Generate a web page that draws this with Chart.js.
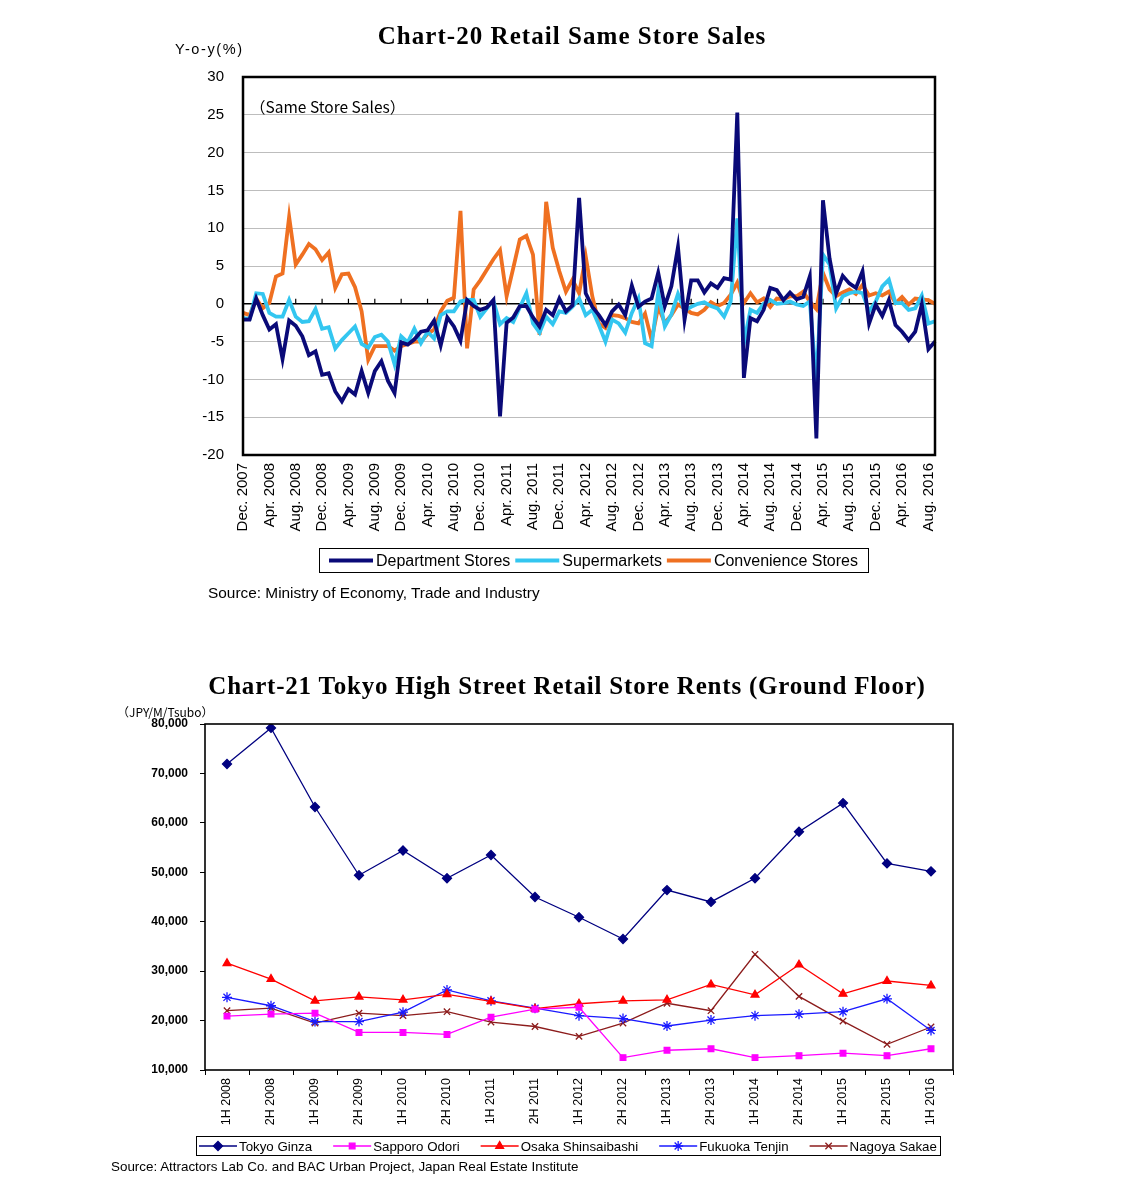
<!DOCTYPE html>
<html>
<head>
<meta charset="utf-8">
<title>Retail Same Store Sales / High Street Rents</title>
<script src="https://cdn.jsdelivr.net/npm/chart.js@4.4.1/dist/chart.umd.min.js"></script>
<style>
    body { margin: 0; background: #fff; width: 1139px; height: 1184px; position: relative; overflow: hidden;
           font-family: 'Liberation Sans', Arial, sans-serif; color: #000; }
    .abs { position: absolute; white-space: nowrap; }
    .title { font-family: 'Liberation Serif', serif; font-weight: bold; font-size: 25px; text-align: center; left: 0; }
    canvas { position: absolute; left: 0; }
</style>
</head>
<body>
<canvas id="salesChart" width="1139" height="600" style="top:0"></canvas>
<canvas id="rentChart" width="1139" height="584" style="top:600px"></canvas>

<div class="abs title" style="top:22px; width:1144px; letter-spacing:1.05px;">Chart-20 Retail Same Store Sales</div>
<div class="abs" style="left:175px; top:41px; font-size:14.5px; letter-spacing:1.6px;">Y-o-y(%)</div>
<div class="abs" style="left:250px; top:95px; font-size:15.5px; font-family:'Noto Sans CJK JP', sans-serif;">（Same Store Sales）</div>
<div class="abs" style="left:208px; top:584px; font-size:15.4px;">Source: Ministry of Economy, Trade and Industry</div>

<div class="abs title" style="top:672px; width:1134px; letter-spacing:0.8px;">Chart-21 Tokyo High Street Retail Store Rents (Ground Floor)</div>
<div class="abs" style="left:117px; top:703px; font-size:12px; font-family:'Noto Sans CJK JP', sans-serif;">（JPY/M/Tsubo）</div>
<div class="abs" style="left:111px; top:1159px; font-size:13.4px;">Source: Attractors Lab Co. and BAC Urban Project, Japan Real Estate Institute</div>

<script>
// ---- Chart-20 data (monthly, Dec. 2007 - Sep. 2016) ----
const monthNames = ['Jan.', 'Feb.', 'Mar.', 'Apr.', 'May', 'Jun.', 'Jul.', 'Aug.', 'Sep.', 'Oct.', 'Nov.', 'Dec.'];
const months = [];
for (let m = 11, y = 2007; months.length < 106; m++) {
    if (m === 12) { m = 0; y++; }
    months.push(monthNames[m] + ' ' + y);
}

const deptStores = [
    -2.1, -2.1, 0.7, -1.5, -3.4, -2.7, -7.3, -2.2, -2.9, -4.3,
    -6.8, -6.3, -9.4, -9.2, -11.6, -12.9, -11.3, -12.0, -8.9, -11.8,
    -8.9, -7.6, -10.2, -11.8, -5.1, -5.4, -4.7, -3.7, -3.5, -2.2,
    -5.5, -1.8, -3.0, -4.9, 0.5, -0.3, -0.8, -0.5, 0.5, -14.9,
    -2.5, -1.8, -0.3, -0.3, -1.8, -3.0, -0.8, -1.5, 0.7, -1.0,
    -0.2, 14.0, 1.4, -0.4, -1.5, -2.8, -1.0, -0.1, -1.5, 2.4,
    -0.4, 0.3, 0.7, 4.1, -0.3, 2.3, 7.5, -2.1, 3.1, 3.1,
    1.5, 2.7, 2.1, 3.4, 3.2, 25.3, -9.8, -1.9, -2.3, -0.8,
    2.1, 1.8, 0.5, 1.5, 0.6, 0.9, 3.6, -17.8, 13.7, 6.0,
    1.4, 3.7, 2.7, 2.1, 4.3, -2.6, -0.1, -1.6, 0.5, -2.8,
    -3.7, -4.8, -3.7, -0.1, -6.0, -5.0
];
const supermarkets = [
    -1.9, -2.0, 1.4, 1.3, -1.2, -1.7, -1.7, 0.5, -1.7, -2.4,
    -2.3, -0.7, -3.3, -3.1, -5.9, -4.8, -3.9, -3.0, -5.3, -5.8,
    -4.4, -4.1, -5.0, -8.0, -4.3, -5.1, -3.3, -5.2, -3.7, -4.6,
    -1.5, -1.0, -1.0, 0.3, 0.5, 0.5, -1.7, -0.6, 0.4, -2.7,
    -1.9, -2.4, -0.5, 1.4, -2.6, -3.8, -1.7, -2.7, -1.0, -1.2,
    -0.4, 0.7, -1.5, -0.8, -2.8, -5.0, -2.1, -2.6, -3.8, -1.2,
    0.7, -5.2, -5.6, 1.5, -3.0, -1.4, 1.3, -0.9, -0.4, 0.0,
    0.2, -0.3, -0.6, -1.7, 0.3, 11.3, -5.2, -0.8, -1.2, 0.0,
    0.5, 0.0, 0.1, 0.3, -0.1, -0.3, 0.3, -10.3, 6.5, 5.2,
    -0.6, 1.0, 1.4, 1.6, 1.4, -1.0, 0.3, 2.3, 3.2, 0.1,
    0.1, -0.8, -0.6, 1.1, -2.6, -2.3
];
const convStores = [
    -1.2, -1.5, 0.7, -0.6, 0.1, 3.6, 4.0, 11.5, 5.2, 6.5,
    7.9, 7.2, 5.8, 6.8, 2.1, 3.9, 4.0, 2.2, -1.0, -7.4,
    -5.6, -5.6, -5.6, -6.2, -5.6, -5.3, -5.0, -5.0, -4.0, -3.4,
    -1.0, 0.4, 0.8, 12.3, -5.9, 1.9, 3.1, 4.5, 5.9, 7.1,
    1.0, 4.7, 8.5, 9.0, 6.5, -4.1, 13.5, 7.4, 4.3, 1.6,
    3.2, 1.4, 6.3, 1.0, -2.6, -3.2, -1.5, -1.6, -1.9, -2.4,
    -2.6, -1.3, -4.8, -0.4, -2.5, -1.5, -0.1, -0.6, -1.2, -1.4,
    -0.8, 0.2, -0.3, 0.1, 1.2, 2.8, 0.1, 1.4, 0.2, 0.7,
    -0.4, 0.7, 0.6, 1.0, 1.0, 1.6, 0.3, -0.7, 4.1, 1.9,
    1.0, 1.5, 1.9, 1.3, 2.5, 1.1, 1.4, 1.1, 1.6, 0.1,
    0.9, -0.1, 0.7, 0.6, 0.5, 0.0
];

// ---- Chart-21 data (half years) ----
const halves = ['1H 2008', '2H 2008', '1H 2009', '2H 2009', '1H 2010', '2H 2010', '1H 2011', '2H 2011', '1H 2012',
                '2H 2012', '1H 2013', '2H 2013', '1H 2014', '2H 2014', '1H 2015', '2H 2015', '1H 2016'];
const tokyoGinza = [71900, 79200, 63200, 49400, 54400, 48800, 53500, 45000, 40900, 36500, 46400, 44000, 48800, 58200, 64000, 51800, 50200];
const sapporoOdori = [20900, 21300, 21500, 17600, 17600, 17200, 20700, 22300, 22700, 12500, 14000, 14300, 12500, 12900, 13400, 12900, 14300];
const osakaShinsaibashi = [31600, 28400, 24000, 24800, 24200, 25300, 23900, 22400, 23400, 24000, 24200, 27300, 25200, 31300, 25400, 28000, 27100];
const fukuokaTenjin = [24700, 23000, 19800, 19800, 21700, 26200, 24000, 22500, 21000, 20400, 18900, 20100, 21000, 21300, 21800, 24400, 18000];
const nagoyaSakae = [22000, 22500, 19500, 21500, 21000, 21800, 19700, 18800, 16800, 19500, 23500, 22000, 33400, 24900, 19900, 15200, 18700];

// Plot frame + little ticks on the zero line
const framePlugin = {
    id: 'frame',
    beforeDatasetsDraw(chart, args, opts) {
        if (!opts.zeroTicks) return;
        const ctx = chart.ctx;
        const xs = chart.scales.x;
        const y0 = chart.scales.y.getPixelForValue(0);
        ctx.save();
        ctx.strokeStyle = '#000';
        ctx.lineWidth = 1.2;
        ctx.beginPath();
        for (let i = 0; i < xs.ticks.length; i += opts.zeroTicks) {
            const px = xs.getPixelForTick(i);
            ctx.moveTo(px, y0);
            ctx.lineTo(px, y0 - 5);
        }
        ctx.stroke();
        ctx.restore();
    },
    afterDatasetsDraw(chart, args, opts) {
        const { ctx, chartArea: a } = chart;
        ctx.save();
        ctx.strokeStyle = '#000';
        ctx.lineWidth = opts.width;
        ctx.strokeRect(a.left, a.top, a.right - a.left, a.bottom - a.top);
        ctx.restore();
    }
};

// Legend in a box, drawn on the canvas
const boxLegendPlugin = {
    id: 'boxLegend',
    afterDraw(chart, args, opts) {
        const ctx = chart.ctx;
        ctx.save();
        ctx.font = opts.font;
        const items = chart.data.datasets.map(ds => ({
            ds: ds,
            w: opts.swatch + opts.textGap + ctx.measureText(ds.label).width
        }));
        const total = items.reduce((s, it) => s + it.w, 0) + opts.gap * (items.length - 1) + opts.padX * 2;
        let x = Math.round(opts.centerX - total / 2);
        const top = opts.top;
        ctx.strokeStyle = '#000';
        ctx.lineWidth = 1;
        ctx.strokeRect(x + 0.5, top + 0.5, Math.round(total), opts.height);
        x += opts.padX;
        const cy = top + opts.height / 2 + 0.5;
        items.forEach(it => {
            const ds = it.ds;
            ctx.strokeStyle = ds.borderColor;
            ctx.lineWidth = opts.lineWidth;
            ctx.beginPath();
            ctx.moveTo(x, cy);
            ctx.lineTo(x + opts.swatch, cy);
            ctx.stroke();
            if (ds.pointRadius > 0 && Chart.helpers && Chart.helpers.drawPoint) {
                ctx.fillStyle = ds.pointBackgroundColor;
                ctx.strokeStyle = ds.pointBorderColor;
                ctx.lineWidth = ds.pointBorderWidth || 1;
                Chart.helpers.drawPoint(ctx, { pointStyle: ds.pointStyle, radius: ds.pointRadius, borderWidth: ds.pointBorderWidth || 1 },
                    x + opts.swatch / 2, cy);
            }
            ctx.fillStyle = '#000';
            ctx.textBaseline = 'middle';
            ctx.textAlign = 'left';
            ctx.fillText(ds.label, x + opts.swatch + opts.textGap, cy + 1);
            x += it.w + opts.gap;
        });
        ctx.restore();
    }
};

document.addEventListener('DOMContentLoaded', () => {
    Chart.defaults.font.family = "'Liberation Sans', Arial, sans-serif";
    Chart.defaults.color = '#000';

    // Chart-20 Retail Same Store Sales
    new Chart(document.getElementById('salesChart'), {
        type: 'line',
        data: {
            labels: months,
            datasets: [
                { label: 'Department Stores', data: deptStores, borderColor: '#0a0a78' },
                { label: 'Supermarkets', data: supermarkets, borderColor: '#33c6f0' },
                { label: 'Convenience Stores', data: convStores, borderColor: '#ef7021' }
            ].map(ds => Object.assign(ds, { borderWidth: 3.8, pointRadius: 0, tension: 0, fill: false }))
        },
        options: {
            responsive: false,
            animation: false,
            layout: { padding: { top: 77, left: 180, right: 204, bottom: 55 } },
            scales: {
                x: {
                    grid: { display: false },
                    border: { display: false },
                    ticks: {
                        autoSkip: false,
                        minRotation: 90,
                        maxRotation: 90,
                        padding: 0,
                        font: { size: 15 },
                        callback: function (v, i) { return i % 4 === 0 ? this.getLabelForValue(v) : ''; }
                    },
                    afterFit: s => { s.height = 90; }
                },
                y: {
                    min: -20,
                    max: 30,
                    border: { display: false },
                    grid: {
                        drawTicks: false,
                        color: c => c.tick && c.tick.value === 0 ? '#000' : '#bdbdbd',
                        lineWidth: c => c.tick && c.tick.value === 0 ? 1.4 : 1
                    },
                    ticks: { stepSize: 5, padding: 19, font: { size: 15 } },
                    afterFit: s => { s.width = 63; }
                }
            },
            plugins: {
                legend: { display: false },
                tooltip: { enabled: false },
                frame: { width: 2.5, zeroTicks: 4 },
                boxLegend: { top: 548, height: 24, centerX: 593, font: "16px 'Liberation Sans', Arial, sans-serif",
                             swatch: 44, textGap: 3, gap: 5, padX: 10, lineWidth: 4 }
            }
        },
        plugins: [framePlugin, boxLegendPlugin]
    });

    // Chart-21 Tokyo High Street Retail Store Rents
    const rentSeries = [
        { label: 'Tokyo Ginza', data: tokyoGinza, color: '#000080', pointStyle: 'rectRot', pointRadius: 4.5 },
        { label: 'Sapporo Odori', data: sapporoOdori, color: '#ff00ff', pointStyle: 'rect', pointRadius: 4 },
        { label: 'Osaka Shinsaibashi', data: osakaShinsaibashi, color: '#ff0000', pointStyle: 'triangle', pointRadius: 4.5 },
        { label: 'Fukuoka Tenjin', data: fukuokaTenjin, color: '#1a1aff', pointStyle: 'star', pointRadius: 5 },
        { label: 'Nagoya Sakae', data: nagoyaSakae, color: '#8c1c1c', pointStyle: 'crossRot', pointRadius: 4.5 }
    ];

    new Chart(document.getElementById('rentChart'), {
        type: 'line',
        data: {
            labels: halves,
            datasets: rentSeries.map(s => ({
                label: s.label,
                data: s.data,
                borderColor: s.color,
                borderWidth: 1.3,
                pointStyle: s.pointStyle,
                pointRadius: s.pointRadius,
                pointBackgroundColor: s.color,
                pointBorderColor: s.color,
                pointBorderWidth: 1.3,
                tension: 0,
                fill: false
            }))
        },
        options: {
            responsive: false,
            animation: false,
            layout: { padding: { top: 124, left: 130, right: 186, bottom: 52 } },
            scales: {
                x: {
                    offset: true,
                    border: { display: false },
                    grid: { offset: true, drawOnChartArea: false, tickLength: 5, color: '#000' },
                    ticks: { autoSkip: false, minRotation: 90, maxRotation: 90, padding: 3, font: { size: 12.5 } },
                    afterFit: s => { s.height = 62; }
                },
                y: {
                    min: 10000,
                    max: 80000,
                    border: { display: false },
                    grid: { drawOnChartArea: false, tickLength: 5, color: '#000' },
                    ticks: {
                        stepSize: 10000,
                        padding: 12,
                        font: { size: 12, weight: 'bold' },
                        callback: v => v.toLocaleString('en-US')
                    },
                    afterFit: s => { s.width = 75; }
                }
            },
            plugins: {
                legend: { display: false },
                tooltip: { enabled: false },
                frame: { width: 1.6 },
                boxLegend: { top: 536, height: 19, centerX: 568, font: "13.3px 'Liberation Sans', Arial, sans-serif",
                             swatch: 38, textGap: 2, gap: 21, padX: 3, lineWidth: 1.3 }
            }
        },
        plugins: [framePlugin, boxLegendPlugin]
    });
});
</script>
</body>
</html>
